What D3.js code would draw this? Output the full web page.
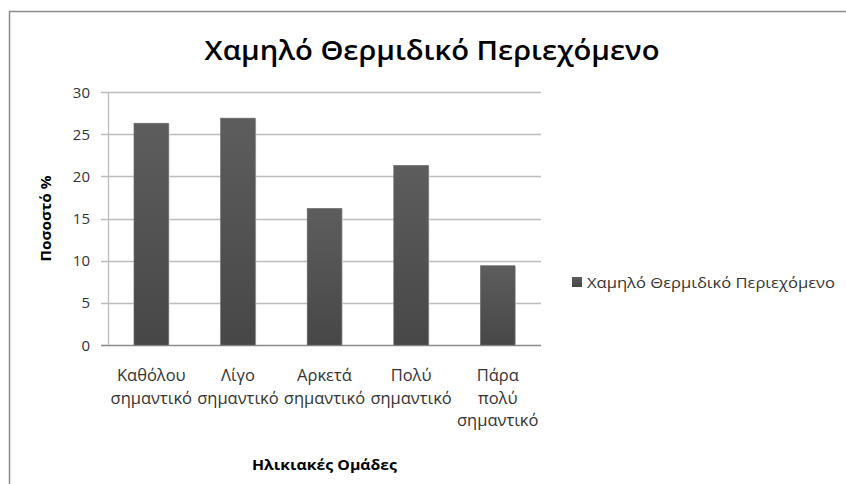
<!DOCTYPE html>
<html>
<head>
<meta charset="utf-8">
<script src="https://cdn.jsdelivr.net/npm/d3@7"></script>
<style>
  body { margin: 0; background: #fff; }
  svg { display: block; font-family: 'Open Sans', 'DejaVu Sans', sans-serif; }
</style>
</head>
<body>
<svg id="chart" width="846" height="484"></svg>
<script>
// chart data
const categories = [
  ['Καθόλου', 'σημαντικό'],
  ['Λίγο', 'σημαντικό'],
  ['Αρκετά', 'σημαντικό'],
  ['Πολύ', 'σημαντικό'],
  ['Πάρα', 'πολύ', 'σημαντικό']
]
const values = [26.3, 26.9, 16.2, 21.3, 9.4]
const yTicks = [0, 5, 10, 15, 20, 25, 30]
const title = 'Χαμηλό Θερμιδικό Περιεχόμενο'
const seriesName = 'Χαμηλό Θερμιδικό Περιεχόμενο'
const yTitle = 'Ποσοστό %'
const xTitle = 'Ηλικιακές Ομάδες'

// plot area
const plotLeft = 108
const plotRight = 541
const plotTop = 92
const plotBottom = 345

const svg = d3.select('#chart')

// bar gradient
const grad = svg.append('defs').append('linearGradient')
    .attr('id', 'barGrad')
    .attr('x1', 0).attr('y1', 0).attr('x2', 0).attr('y2', 1)
grad.append('stop').attr('offset', '0%').attr('stop-color', '#5d5d5d')
grad.append('stop').attr('offset', '100%').attr('stop-color', '#474747')

// outer frame
svg.append('path')
    .attr('d', 'M9.5,484 V11.5 H846')
    .attr('fill', 'none')
    .attr('stroke', '#8c8c8c')
    .attr('stroke-width', 1.5)

// title
svg.append('text')
    .attr('x', 432)
    .attr('y', 60)
    .attr('text-anchor', 'middle')
    .attr('font-size', 27)
    .attr('font-weight', 600)
    .attr('fill', '#000')
    .attr('textLength', 455)
    .attr('lengthAdjust', 'spacingAndGlyphs')
    .text(title)

// scales
const x = d3.scaleBand()
    .domain(d3.range(categories.length))
    .range([plotLeft, plotRight])
    .paddingInner(0.6)
    .paddingOuter(0.3)

const y = d3.scaleLinear()
    .domain([0, 30])
    .range([plotBottom, plotTop])

// gridlines
svg.append('g')
  .selectAll('line').data(yTicks)
  .enter().append('line')
    .attr('x1', plotLeft - 7)
    .attr('x2', plotRight)
    .attr('y1', d => Math.round(y(d)) + 0.5)
    .attr('y2', d => Math.round(y(d)) + 0.5)
    .attr('stroke', d => d === 0 ? '#8a8a8a' : '#bdbdbd')
    .attr('stroke-width', 1.3)

// y axis line
svg.append('line')
    .attr('x1', plotLeft + 0.5).attr('x2', plotLeft + 0.5)
    .attr('y1', plotTop).attr('y2', plotBottom)
    .attr('stroke', '#bdbdbd')
    .attr('stroke-width', 1.3)

// y tick labels
svg.append('g')
  .selectAll('text').data(yTicks)
  .enter().append('text')
    .attr('x', plotLeft - 18)
    .attr('y', d => y(d) + 5.5)
    .attr('text-anchor', 'end')
    .attr('font-size', 15)
    .attr('fill', '#333')
    .text(d => d)

// bars with a soft shadow
svg.append('g')
  .selectAll('rect').data(values)
  .enter().append('rect')
    .attr('x', (d, i) => x(i) + 1)
    .attr('y', d => y(d) + 1)
    .attr('width', x.bandwidth())
    .attr('height', d => plotBottom - y(d) - 1)
    .attr('fill', '#d6d6d6')

svg.append('g')
  .selectAll('rect').data(values)
  .enter().append('rect')
    .attr('x', (d, i) => x(i))
    .attr('y', d => y(d))
    .attr('width', x.bandwidth())
    .attr('height', d => plotBottom - y(d))
    .attr('fill', 'url(#barGrad)')
    .attr('stroke', '#6a6a6a')
    .attr('stroke-width', 0.6)

// x category labels
const xl = svg.append('g')
  .selectAll('text').data(categories)
  .enter().append('text')
    .attr('text-anchor', 'middle')
    .attr('font-size', 16.5)
    .attr('fill', '#333')
xl.selectAll('tspan').data((d, i) => d.map(s => ({ s, i })))
  .enter().append('tspan')
    .attr('x', d => x(d.i) + x.bandwidth() / 2)
    .attr('y', (d, j) => 381 + j * 22.5)
    .text(d => d.s)

// axis titles
svg.append('text')
    .attr('transform', 'translate(51,' + ((plotTop + plotBottom) / 2) + ') rotate(-90)')
    .attr('text-anchor', 'middle')
    .attr('font-size', 15)
    .attr('font-weight', 'bold')
    .attr('fill', '#000')
    .attr('textLength', 86)
    .attr('lengthAdjust', 'spacingAndGlyphs')
    .text(yTitle)

svg.append('text')
    .attr('x', (plotLeft + plotRight) / 2)
    .attr('y', 470)
    .attr('text-anchor', 'middle')
    .attr('font-size', 15)
    .attr('font-weight', 'bold')
    .attr('fill', '#000')
    .attr('textLength', 145)
    .attr('lengthAdjust', 'spacingAndGlyphs')
    .text(xTitle)

// legend
const legend = svg.append('g').attr('transform', 'translate(572,277)')
legend.append('rect')
    .attr('width', 10).attr('height', 10)
    .attr('fill', 'url(#barGrad)')
legend.append('text')
    .attr('x', 15)
    .attr('y', 11)
    .attr('font-size', 15)
    .attr('fill', '#333')
    .attr('textLength', 248)
    .attr('lengthAdjust', 'spacingAndGlyphs')
    .text(seriesName)
</script>
</body>
</html>
